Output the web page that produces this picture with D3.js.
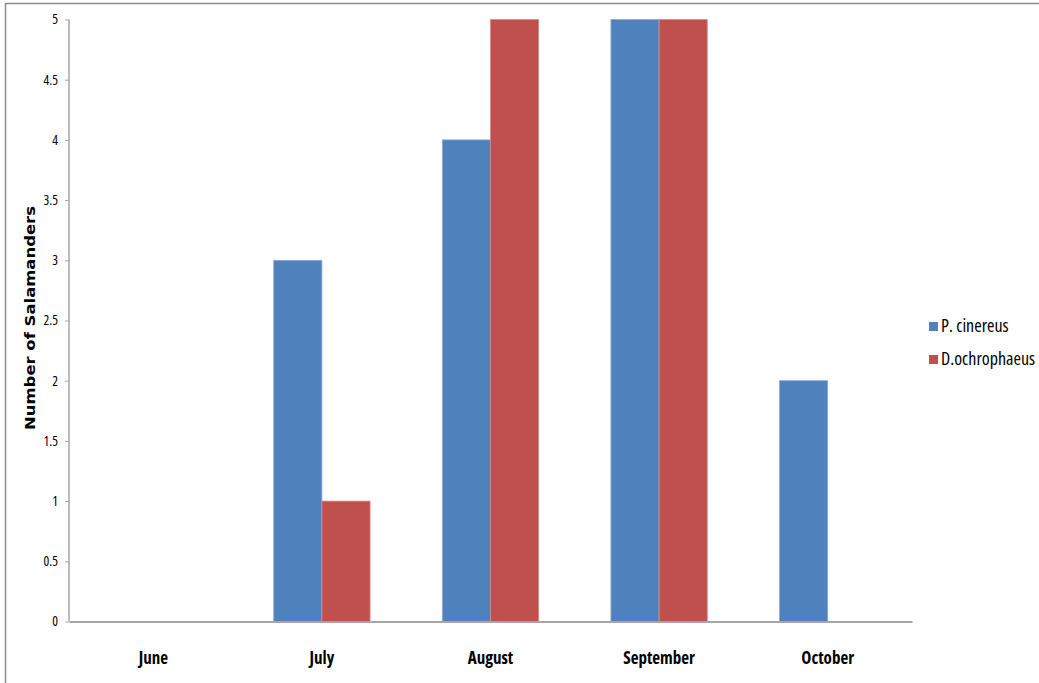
<!DOCTYPE html>
<html>
<head>
<meta charset="utf-8">
<script src="https://cdn.jsdelivr.net/npm/d3@7"></script>
<style>
  html, body { margin: 0; padding: 0; background: #fff; }
  svg { display: block; }
</style>
</head>
<body>
<svg id="chart" width="1039" height="683"></svg>
<script>
// Monthly salamander counts for two species
const months = ["June", "July", "August", "September", "October"];
const seriesNames = ["P. cinereus", "D.ochrophaeus"];
const cinereus = [0, 3, 4, 5, 2];
const ochrophaeus = [0, 1, 5, 5, 0];
const yTicks = [0, 0.5, 1, 1.5, 2, 2.5, 3, 3.5, 4, 4.5, 5];
const colors = ["#4F81BD", "#C0504D"];
const strokeColors = ["#8EACD6", "#D98A88"];

const svg = d3.select("#chart");
const margin = { left: 69, top: 19.5, right: 912, bottom: 621.5 };
const font = "'Liberation Sans Narrow', 'Open Sans', sans-serif";

// outer frame (top and left edges)
svg.append("line").attr("x1", 5).attr("x2", 1039).attr("y1", 3.5).attr("y2", 3.5)
  .attr("stroke", "#8c8c8c").attr("stroke-width", 1.5);
svg.append("line").attr("x1", 5.5).attr("x2", 5.5).attr("y1", 3).attr("y2", 683)
  .attr("stroke", "#8c8c8c").attr("stroke-width", 1.5);

const x = d3.scaleBand().domain(months).range([margin.left, margin.right]).paddingInner(0).paddingOuter(0);
const y = d3.scaleLinear().domain([0, 5]).range([margin.bottom, margin.top]);

const groupWidth = x.bandwidth() / 3.5 * 2; // gap width 150%
const x1 = d3.scaleBand().domain([0, 1]).range([0, groupWidth]);

const data = months.map((m, i) => ({ month: m, values: [cinereus[i], ochrophaeus[i]] }));

const groups = svg.append("g").selectAll("g").data(data).join("g")
  .attr("transform", d => `translate(${x(d.month) + (x.bandwidth() - groupWidth) / 2},0)`);

groups.selectAll("rect").data(d => d.values.map((v, k) => ({ v, k })).filter(e => e.v > 0)).join("rect")
  .attr("x", e => x1(e.k))
  .attr("y", e => y(e.v))
  .attr("width", x1.bandwidth())
  .attr("height", e => y(0) - y(e.v))
  .attr("fill", e => colors[e.k])
  .attr("stroke", e => strokeColors[e.k])
  .attr("stroke-width", 0.8);

// y axis
const yAxis = svg.append("g").attr("transform", `translate(${margin.left},0)`)
  .call(d3.axisLeft(y).tickValues(yTicks).tickSize(4).tickPadding(7).tickFormat(d3.format("")));
yAxis.select(".domain").attr("stroke", "#a6a6a6").attr("stroke-width", 1.5)
  .attr("d", `M0,${margin.top}V${margin.bottom}`);
yAxis.selectAll(".tick line").attr("stroke", "#a6a6a6");
yAxis.selectAll(".tick text")
  .attr("font-family", font)
  .attr("font-stretch", "condensed")
  .attr("font-size", 13.5).attr("fill", "#000");

// x axis
const xAxis = svg.append("g").attr("transform", `translate(0,${margin.bottom})`)
  .call(d3.axisBottom(x).tickSize(0).tickPadding(30));
xAxis.select(".domain").attr("stroke", "#a6a6a6").attr("stroke-width", 2);
xAxis.selectAll(".tick text")
  .attr("font-family", font)
  .attr("font-stretch", "condensed")
  .attr("font-weight", "bold")
  .attr("font-size", 17).attr("fill", "#000");

// y axis title
svg.append("text")
  .attr("transform", "translate(35,318) rotate(-90)")
  .attr("text-anchor", "middle")
  .attr("font-family", "'DejaVu Sans', sans-serif")
  .attr("font-weight", "bold")
  .attr("font-size", 14)
  .attr("textLength", 224)
  .attr("lengthAdjust", "spacingAndGlyphs")
  .text("Number of Salamanders");

// legend
const legend = svg.append("g").selectAll("g").data(seriesNames).join("g")
  .attr("transform", (d, i) => `translate(929,${322 + i * 33})`);
legend.append("rect").attr("width", 9).attr("height", 9).attr("fill", (d, i) => colors[i]);
legend.append("text").attr("x", 12).attr("y", 10)
  .attr("font-family", font)
  .attr("font-stretch", "condensed")
  .attr("font-size", 18)
  .text(d => d);
</script>
</body>
</html>
